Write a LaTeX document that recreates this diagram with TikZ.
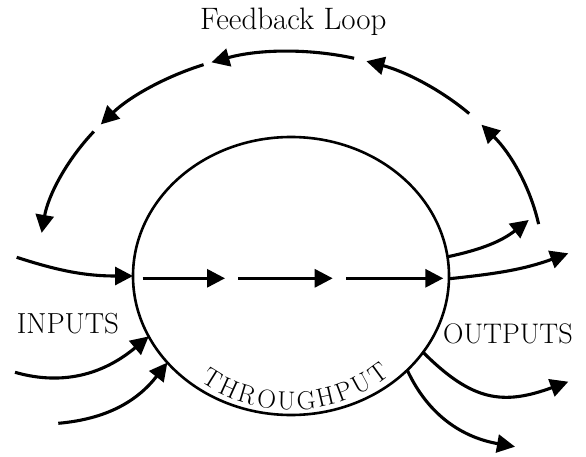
\documentclass[tikz,border=0pt]{standalone}
\usetikzlibrary{arrows.meta,shapes.geometric,calc}
\begin{document}
\begin{tikzpicture}[x=1pt,y=1pt,
  arr/.style={line width=3.1pt, -{Triangle[length=18pt,width=18pt]}},
  lbl/.style={inner sep=0pt}]
\useasboundingbox (0,0) rectangle (586,456);

% throughput circle
\node[draw, ellipse, line width=2.6pt, minimum width=316pt, minimum height=278pt,
      inner sep=0pt, outer sep=0pt] (tp) at (291,180) {};

% labels
\node[lbl, font=\fontsize{31}{31}\selectfont, anchor=base] (fbl) at (293.3,426) {Feedback Loop};
\node[lbl, font=\fontsize{29}{29}\selectfont, anchor=base west] (inl) at (16.7,123) {INPUTS};
\node[lbl, font=\fontsize{28.3}{28.3}\selectfont, anchor=base west] (outl) at (443,112.7) {OUTPUTS};

% curved THROUGHPUT text, letter by letter
\foreach \ch [count=\i] in {T,H,R,O,U,G,H,P,U,T} {
  \pgfmathsetmacro\tt{235.6+(\i-1)*8.13}
  \pgfmathsetmacro\rr{atan2(134*cos(\tt), -147*sin(\tt))}
  \node[lbl, font=\fontsize{26}{26}\selectfont, anchor=base, rotate=\rr] (tl\i)
     at ($(tp.center)+(\tt:147pt and 134pt)$) {\ch};
}

% inner flow arrows
\coordinate (a1) at (142.7,177.7);
\coordinate (a2) at (225,177.7);
\coordinate (a3) at (238.3,177.7);
\coordinate (a4) at (332.7,177.7);
\coordinate (a5) at (346,177.7);
\coordinate (a6) at (443.3,177.7);
\draw[arr] (a1) -- (a2);
\draw[arr] (a3) -- (a4);
\draw[arr] (a5) -- (a6);

% inputs
\coordinate (in1) at (16.7,198.7);
\coordinate (in2) at (15,83.7);
\coordinate (in3) at (58.3,32.7);
\draw[arr] (in1) to[out=-18,in=180] (tp.180.5);
\draw[arr] (in2) to[out=-16,in=220] (tp.203);
\draw[arr] (in3) to[out=5,in=232] (tp.215.3);

% outputs
\coordinate (o1) at (528.7,236);
\coordinate (o2) at (568.3,202.7);
\coordinate (o3) at (568.3,74.3);
\coordinate (o4) at (515,9.3);
\draw[arr] (tp.7) to[out=12,in=218] (o1);
\draw[arr] (tp.-1) to[out=6,in=200] (o2);
\draw[arr] (tp.-30) to[out=-45,in=200,looseness=1.2] (o3);
\draw[arr] (tp.-39.5) to[out=-65,in=170] (o4);

% feedback loop
\coordinate (fbc) at (291,192.5);
\foreach \s/\e [count=\i] in {10.7/40.9, 45/72.6, 75.5/108.4, 110.3/139, 141.5/171.7}
  \draw[arr] ($(fbc)+(\s:252pt and 212pt)$) coordinate (fb\i)
     arc[start angle=\s, end angle=\e, x radius=252pt, y radius=212pt];
\end{tikzpicture}
\end{document}
